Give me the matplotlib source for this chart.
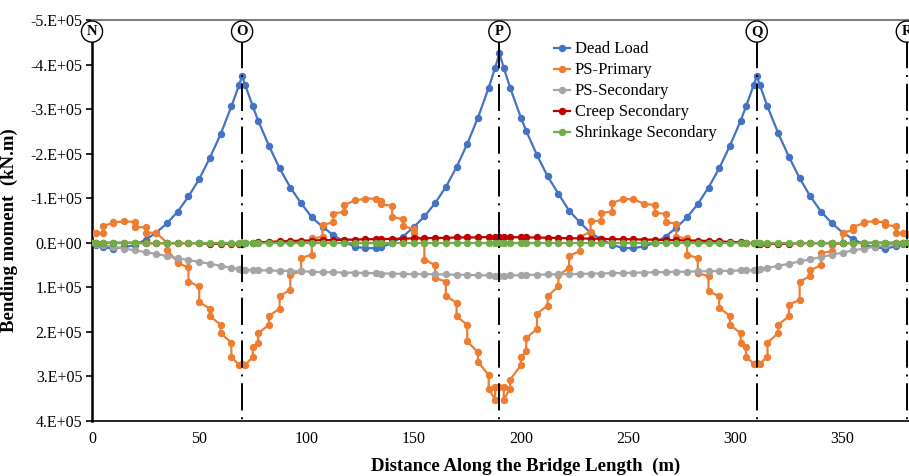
import numpy as np
import matplotlib
matplotlib.use('Agg')
import matplotlib.pyplot as plt
from matplotlib.lines import Line2D
from matplotlib.ticker import FuncFormatter, MultipleLocator

plt.rcParams['font.family'] = ['Liberation Serif', 'DejaVu Serif']

# node positions along the bridge (m)
x_span1 = [0, 2, 5, 10, 15, 20, 25, 30, 35, 40, 45, 50, 55, 60, 65, 68.5, 70]
x_span2 = [71.5, 75, 77.5, 82.5, 87.5, 92.5, 97.5, 102.5, 107.5, 112.5, 117.5, 122.5, 127.5, 132.5,
           135, 140, 145, 150, 155, 160, 165, 170, 175, 180, 185, 188, 190]
x_span3 = [192, 195, 200, 202.5, 207.5, 212.5, 217.5, 222.5, 227.5, 232.5, 237.5, 242.5, 247.5, 252.5,
           257.5, 262.5, 267.5, 272.5, 277.5, 282.5, 287.5, 292.5, 297.5, 302.5, 305, 308.5, 310]
x_span4 = [311.5, 315, 320, 325, 330, 335, 340, 345, 350, 355, 360, 365, 370, 375, 378, 380]

# moments in units of 1E+05 kN.m (positive = sagging, drawn downwards)
dead_span1 = [0, 0.04, 0.10, 0.13, 0.10, 0.05, -0.07, -0.23, -0.44, -0.70, -1.04, -1.43, -1.91, -2.44, -3.06, -3.53, -3.74]
dead_span2 = [-3.53, -3.06, -2.74, -2.18, -1.67, -1.24, -0.89, -0.57, -0.36, -0.17, -0.03, 0.09, 0.12, 0.12,
              0.10, 0.0, -0.14, -0.35, -0.59, -0.89, -1.25, -1.70, -2.22, -2.81, -3.48, -3.93, -4.25]
dead_span3 = [-3.93, -3.48, -2.81, -2.51, -1.97, -1.49, -1.10, -0.72, -0.46, -0.22, -0.08, 0.04, 0.12, 0.12,
              0.08, 0.0, -0.14, -0.34, -0.57, -0.87, -1.24, -1.67, -2.18, -2.74, -3.06, -3.53, -3.74]
dead_span4 = [-3.53, -3.06, -2.46, -1.93, -1.45, -1.04, -0.70, -0.44, -0.23, -0.08, 0.04, 0.10, 0.13, 0.08, 0.03, 0.0]

ps_sec_span1 = [0, 0.02, 0.05, 0.09, 0.13, 0.17, 0.21, 0.25, 0.30, 0.35, 0.39, 0.43, 0.47, 0.52, 0.56, 0.59, 0.60]
ps_sec_span2 = [0.61, 0.61, 0.62, 0.62, 0.63, 0.63, 0.64, 0.65, 0.66, 0.66, 0.67, 0.67, 0.68, 0.68,
                0.69, 0.69, 0.70, 0.70, 0.70, 0.71, 0.71, 0.72, 0.72, 0.73, 0.73, 0.74, 0.74]
ps_sec_span3 = [0.74, 0.73, 0.73, 0.72, 0.72, 0.71, 0.71, 0.70, 0.70, 0.69, 0.69, 0.68, 0.68, 0.67,
                0.67, 0.66, 0.66, 0.65, 0.65, 0.64, 0.64, 0.63, 0.63, 0.62, 0.62, 0.61, 0.61]
ps_sec_span4 = [0.59, 0.56, 0.52, 0.47, 0.42, 0.37, 0.32, 0.27, 0.22, 0.17, 0.13, 0.09, 0.05, 0.03, 0.01, 0.0]

creep_span1 = [0, 0, 0, 0, 0, 0, 0.01, 0.01, 0.01, 0.01, 0.01, 0.01, 0.02, 0.02, 0.02, 0.02, 0.02]
creep_span2 = [0.01, 0.0, -0.01, -0.02, -0.03, -0.04, -0.05, -0.05, -0.06, -0.06, -0.07, -0.07, -0.08, -0.08,
               -0.08, -0.09, -0.09, -0.10, -0.10, -0.11, -0.11, -0.12, -0.12, -0.12, -0.13, -0.13, -0.13]
creep_span3 = [-0.13, -0.13, -0.12, -0.12, -0.12, -0.11, -0.11, -0.10, -0.10, -0.09, -0.09, -0.08, -0.08, -0.08,
               -0.07, -0.07, -0.06, -0.06, -0.05, -0.05, -0.04, -0.03, -0.02, -0.01, 0.0, 0.01, 0.02]
creep_span4 = [0.02, 0.02, 0.02, 0.02, 0.01, 0.01, 0.01, 0.01, 0.01, 0.01, 0, 0, 0, 0, 0, 0]

shrink_span1 = [0, 0, 0, 0, 0, 0, 0, 0, 0, 0, 0, 0, 0, 0, 0, 0, 0]
shrink_span2 = [0, 0, 0, 0, 0, 0, 0, 0, 0, 0, 0, 0, 0, 0, 0, 0, 0, 0, 0, 0, 0, 0, 0, 0, 0, 0, 0]
shrink_span3 = [0, 0, 0, 0, 0, 0, 0, 0, 0, 0, 0, 0, 0, 0, 0, 0, 0, 0, 0, 0, 0, 0, 0, 0, 0, 0, 0]
shrink_span4 = [0, 0, 0, 0, 0, 0, 0, 0, 0, 0, 0, 0, 0, 0, 0, 0]

# PS-Primary: element end values, so most nodes appear twice
ps_x = [0, 2, 5, 5, 10, 10, 15, 20, 20, 25, 25, 30, 35, 35, 40, 40, 45, 45, 50, 50,
        55, 55, 60, 60, 65, 65, 68.5, 70, 71.5, 75, 75, 77.5, 77.5, 82.5, 82.5, 87.5, 87.5,
        92.5, 92.5, 97.5, 97.5, 102.5, 102.5, 107.5, 107.5, 112.5, 112.5, 117.5, 117.5,
        122.5, 127.5, 132.5, 135, 135, 140, 140, 145, 145, 150, 150, 155, 155, 160, 160,
        165, 165, 170, 170, 175, 175, 180, 180, 185, 185, 188, 188, 190, 192, 192, 195, 195,
        200, 200, 202.5, 202.5, 207.5, 207.5, 212.5, 212.5, 217.5, 217.5, 222.5, 222.5,
        227.5, 227.5, 232.5, 232.5, 237.5, 237.5, 242.5, 242.5, 247.5, 252.5, 257.5,
        262.5, 262.5, 267.5, 267.5, 272.5, 272.5, 277.5, 277.5, 282.5, 282.5, 287.5, 287.5,
        292.5, 292.5, 297.5, 297.5, 302.5, 302.5, 305, 305, 308.5, 310, 311.5, 315, 315,
        320, 320, 325, 325, 330, 330, 335, 335, 340, 340, 345, 345, 350, 350, 355, 355,
        360, 360, 365, 370, 370, 375, 375, 378, 380]
ps_val = [-0.22, -0.22, -0.22, -0.38, -0.44, -0.46, -0.48, -0.47, -0.35, -0.35, -0.23, -0.22, 0.0, 0.16, 0.44, 0.46, 0.55, 0.87, 0.98, 1.33,
          1.48, 1.65, 1.84, 2.03, 2.24, 2.56, 2.74, 2.72, 2.74, 2.56, 2.35, 2.24, 2.03, 1.84, 1.64, 1.48, 1.20,
          1.05, 0.72, 0.64, 0.34, 0.27, -0.10, -0.13, -0.40, -0.46, -0.65, -0.70, -0.84,
          -0.95, -0.99, -0.99, -0.93, -0.86, -0.83, -0.58, -0.53, -0.37, -0.31, -0.22, 0.0, 0.38, 0.50, 0.79,
          0.87, 1.19, 1.35, 1.65, 1.84, 2.21, 2.46, 2.67, 2.97, 3.28, 3.52, 3.24, 3.24, 3.24, 3.52, 3.28, 3.07,
          2.75, 2.56, 2.44, 2.14, 1.93, 1.59, 1.41, 1.20, 0.98, 0.72, 0.57, 0.29,
          0.19, -0.13, -0.25, -0.48, -0.50, -0.67, -0.70, -0.89, -0.98, -0.98, -0.87,
          -0.85, -0.67, -0.65, -0.46, -0.43, -0.13, -0.10, 0.27, 0.34, 0.68, 0.75, 1.09,
          1.20, 1.46, 1.64, 1.84, 2.03, 2.24, 2.35, 2.56, 2.71, 2.70, 2.71, 2.56, 2.24,
          2.03, 1.84, 1.65, 1.39, 1.28, 0.87, 0.75, 0.62, 0.50, 0.23, 0.19, 0.04, 0.0, -0.23, -0.28, -0.36,
          -0.44, -0.47, -0.48, -0.46, -0.40, -0.37, -0.22, -0.21, -0.20]

supports = [0, 70, 190, 310, 380]
support_names = ['N', 'O', 'P', 'Q', 'R']

x_nodes = np.array(x_span1 + x_span2 + x_span3 + x_span4)
dead = np.array(dead_span1 + dead_span2 + dead_span3 + dead_span4) * 1e5
ps_sec = np.array(ps_sec_span1 + ps_sec_span2 + ps_sec_span3 + ps_sec_span4) * 1e5
creep = np.array(creep_span1 + creep_span2 + creep_span3 + creep_span4) * 1e5
shrink = np.array(shrink_span1 + shrink_span2 + shrink_span3 + shrink_span4) * 1e5
ps_prim = np.array(ps_val) * 1e5

W, H = 909, 476
fig = plt.figure(figsize=(W / 100, H / 100), dpi=100)
ax = fig.add_axes([92 / W, 55 / H, 817 / W, 401 / H])

series = [
    (x_nodes, dead, '#4472C4', 'Dead Load'),
    (np.array(ps_x), ps_prim, '#ED7D31', 'PS-Primary'),
    (x_nodes, ps_sec, '#A5A5A5', 'PS-Secondary'),
    (x_nodes, creep, '#C00000', 'Creep Secondary'),
    (x_nodes, shrink, '#70AD47', 'Shrinkage Secondary'),
]
for i, (xs, ys, c, lab) in enumerate(series):
    ax.plot(xs, ys, color=c, lw=1.6, marker='o', ms=4.3, label=lab, zorder=2 + i)

# support lines and labels
ax.vlines(supports, -4.52e5, 4e5, colors='black', lw=1.4,
          linestyles=[(0, (14, 3.5, 1, 3.5))], zorder=8)
for xs, name in zip(supports, support_names):
    ax.text(xs, -4.74e5, name, ha='center', va='center', fontsize=10.5, fontweight='bold',
            bbox=dict(boxstyle='circle,pad=0.28', fc='white', ec='black', lw=1.0), zorder=10)

ax.set_xlim(0, 381)
ax.set_ylim(4e5, -5e5)
ax.xaxis.set_major_locator(MultipleLocator(50))
ax.yaxis.set_major_locator(MultipleLocator(1e5))


def sci_fmt(v, pos):
    if abs(v) < 1:
        return '0.E+00'
    return '%d.E+05' % round(v / 1e5)


ax.yaxis.set_major_formatter(FuncFormatter(sci_fmt))
ax.tick_params(axis='x', length=0, pad=7, labelsize=11.5)
ax.tick_params(axis='y', length=4, width=1.2, pad=3, labelsize=11.5)

ax.spines['right'].set_visible(False)
ax.spines['top'].set_color('#7f7f7f')
ax.spines['top'].set_linewidth(1.5)
ax.spines['left'].set_linewidth(1.8)
ax.spines['bottom'].set_linewidth(1.2)

ax.set_xlabel('Distance Along the Bridge Length  (m)', fontsize=13.5, fontweight='bold')
ax.set_ylabel('Bending moment  (kN.m)', fontsize=13.5, fontweight='bold')
ax.xaxis.set_label_coords(0.531, -0.092)
ax.yaxis.set_label_coords(-0.091, 0.476)

handles = [Line2D([], [], color=c, lw=1.6, marker='o', ms=4.3) for _, _, c, _ in series]
labels = [lab for _, _, _, lab in series]
ax.legend(handles, labels, loc='upper left', bbox_to_anchor=(0.561, 0.955), frameon=False,
          fontsize=12, handlelength=1.0, handletextpad=0.25, labelspacing=0.3,
          borderaxespad=0, borderpad=0.2)

fig.savefig('out.png', dpi=100)
